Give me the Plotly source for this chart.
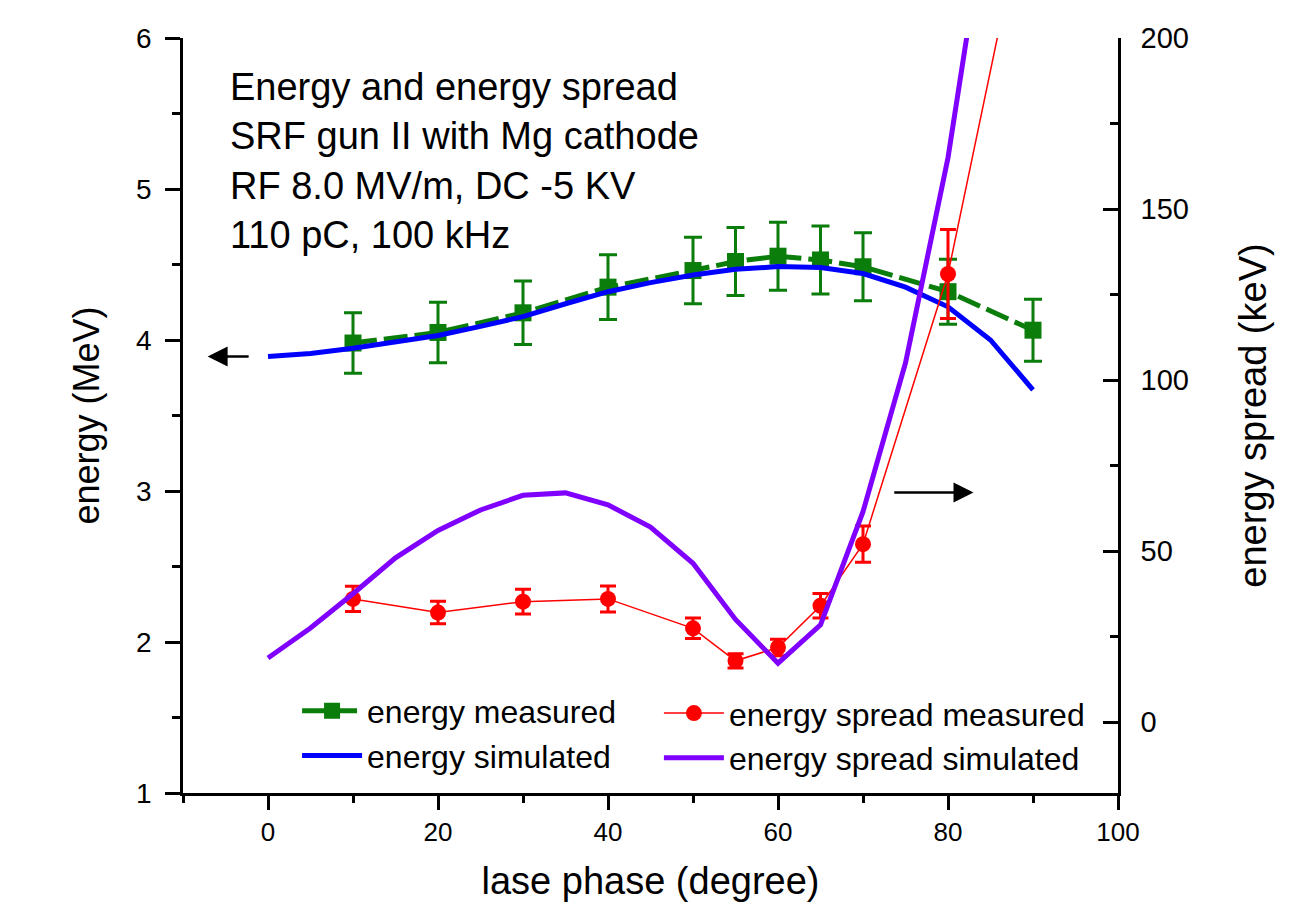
import plotly.graph_objects as go

# ---------------- data ----------------
phase_meas = [10, 20, 30, 40, 50, 55, 60, 65, 70, 80, 90]
energy_meas = [3.98, 4.05, 4.18, 4.35, 4.46, 4.52, 4.555, 4.53, 4.485, 4.32, 4.065]
energy_err = [0.20, 0.20, 0.21, 0.215, 0.22, 0.225, 0.225, 0.225, 0.225, 0.215, 0.205]

phase_sim = [0, 5, 10, 15, 20, 25, 30, 35, 40, 45, 50, 55, 60, 65, 70, 75, 80, 85, 90]
energy_sim = [3.89, 3.91, 3.945, 3.985, 4.03, 4.09, 4.155, 4.24, 4.32, 4.38, 4.43,
              4.468, 4.486, 4.48, 4.44, 4.35, 4.22, 4.0, 3.67]

phase_spread_meas = [10, 20, 30, 40, 50, 55, 60, 65, 70, 80, 90]
spread_meas = [36.0, 32.0, 35.2, 36.0, 27.4, 17.9, 21.8, 34.0, 52.0, 131.0, 250.0]
spread_err = [3.7, 3.3, 3.6, 3.8, 3.0, 2.1, 2.4, 3.6, 5.3, 13.0, 13.0]

phase_spread_sim = [0, 5, 10, 15, 20, 25, 30, 35, 40, 45, 50, 55, 60, 65, 70, 75, 80, 85]
spread_sim = [18.7, 27.5, 37.5, 48.0, 56.0, 62.0, 66.3, 67.0, 63.5, 57.0, 46.4,
              30.0, 17.2, 28.4, 61.5, 105.0, 165.0, 245.0]

info_lines = ["Energy and energy spread", "SRF gun II with Mg cathode",
              "RF 8.0 MV/m, DC -5 KV", "110 pC, 100 kHz"]

GREEN = "#0a7d0a"
BLUE = "#0000ff"
RED = "#ff0000"
PURPLE = "#8000ff"
FONT = "Liberation Sans, Arial, sans-serif"

fig = go.Figure()

fig.add_trace(go.Scatter(
    x=phase_meas, y=energy_meas, name="energy measured", mode="lines+markers",
    line=dict(color=GREEN, width=5, dash="24px,7px"),
    marker=dict(symbol="square", size=17, color=GREEN),
    error_y=dict(type="data", array=energy_err, color=GREEN, thickness=3, width=9),
    legend="legend", xaxis="x", yaxis="y"))

fig.add_trace(go.Scatter(
    x=phase_sim, y=energy_sim, name="energy simulated", mode="lines",
    line=dict(color=BLUE, width=5),
    legend="legend", xaxis="x", yaxis="y"))

fig.add_trace(go.Scatter(
    x=phase_spread_meas, y=spread_meas, name="energy spread measured", mode="lines+markers",
    line=dict(color=RED, width=1.5),
    marker=dict(symbol="circle", size=16, color=RED),
    error_y=dict(type="data", array=spread_err, color=RED, thickness=3, width=8),
    legend="legend2", xaxis="x", yaxis="y2"))

fig.add_trace(go.Scatter(
    x=phase_spread_sim, y=spread_sim, name="energy spread simulated", mode="lines",
    line=dict(color=PURPLE, width=5),
    legend="legend2", xaxis="x", yaxis="y2"))

axis_common = dict(showline=True, linecolor="black", linewidth=2.5, showgrid=False,
                   zeroline=False, tickcolor="black", tickwidth=2.5)

fig.update_layout(
    width=1305, height=919,
    margin=dict(l=183, r=187, t=38, b=126),
    paper_bgcolor="white", plot_bgcolor="white",
    font=dict(family=FONT, color="black", size=25),
    xaxis=dict(range=[-10, 100], tick0=0, dtick=20, ticks="outside", ticklen=14,
               minor=dict(dtick=10, tick0=0, ticks="outside", ticklen=7, tickwidth=2.5,
                          tickcolor="black"),
               tickfont=dict(size=26),
               title=dict(text="lase phase (degree)", font=dict(size=38), standoff=22),
               **axis_common),
    xaxis2=dict(range=[-10, 100], matches="x", overlaying="x", side="top", anchor="y",
                tick0=0, dtick=20, ticks="inside", ticklen=14, showticklabels=False,
                minor=dict(dtick=10, tick0=0, ticks="inside", ticklen=7, tickwidth=2.5,
                           tickcolor="black"),
                **axis_common),
    yaxis=dict(range=[1, 6], tick0=1, dtick=1, ticks="outside", ticklen=15,
               minor=dict(dtick=0.5, tick0=1, ticks="outside", ticklen=8, tickwidth=2.5,
                          tickcolor="black"),
               tickfont=dict(size=28), ticklabelstandoff=8,
               title=dict(text="energy (MeV)", font=dict(size=36), standoff=26),
               **axis_common),
    yaxis2=dict(range=[-20.75, 200], overlaying="y", side="right", anchor="x",
                tick0=0, dtick=50, ticks="inside", ticklen=15,
                minor=dict(dtick=25, tick0=0, ticks="inside", ticklen=8, tickwidth=2.5,
                           tickcolor="black"),
                tickfont=dict(size=29), ticklabelstandoff=14,
                title=dict(text="energy spread (keV)", font=dict(size=38), standoff=52),
                **axis_common),
    legend=dict(x=0.122, y=0.145, xanchor="left", yanchor="top", bgcolor="rgba(0,0,0,0)",
                font=dict(size=32), itemwidth=60, tracegroupgap=0),
    legend2=dict(x=0.509, y=0.142, xanchor="left", yanchor="top", bgcolor="rgba(0,0,0,0)",
                 font=dict(size=32), itemwidth=60, tracegroupgap=0),
    showlegend=True,
)

fig.add_annotation(
    text="<br>".join(info_lines), xref="paper", yref="paper", x=0.048, y=0.966,
    xanchor="left", yanchor="top", align="left", showarrow=False,
    font=dict(size=38, color="black", family=FONT))

# arrows pointing to the relevant axes
fig.add_annotation(x=-7.1, y=3.89, ax=-2.1, ay=3.89, xref="x", yref="y",
                   axref="x", ayref="y", text="", showarrow=True, arrowhead=2,
                   arrowsize=1.6, arrowwidth=2.5, arrowcolor="black")
fig.add_annotation(x=83.0, y=2.99, ax=73.5, ay=2.99, xref="x", yref="y",
                   axref="x", ayref="y", text="", showarrow=True, arrowhead=2,
                   arrowsize=1.6, arrowwidth=2.5, arrowcolor="black")

fig.write_html("out.html")
